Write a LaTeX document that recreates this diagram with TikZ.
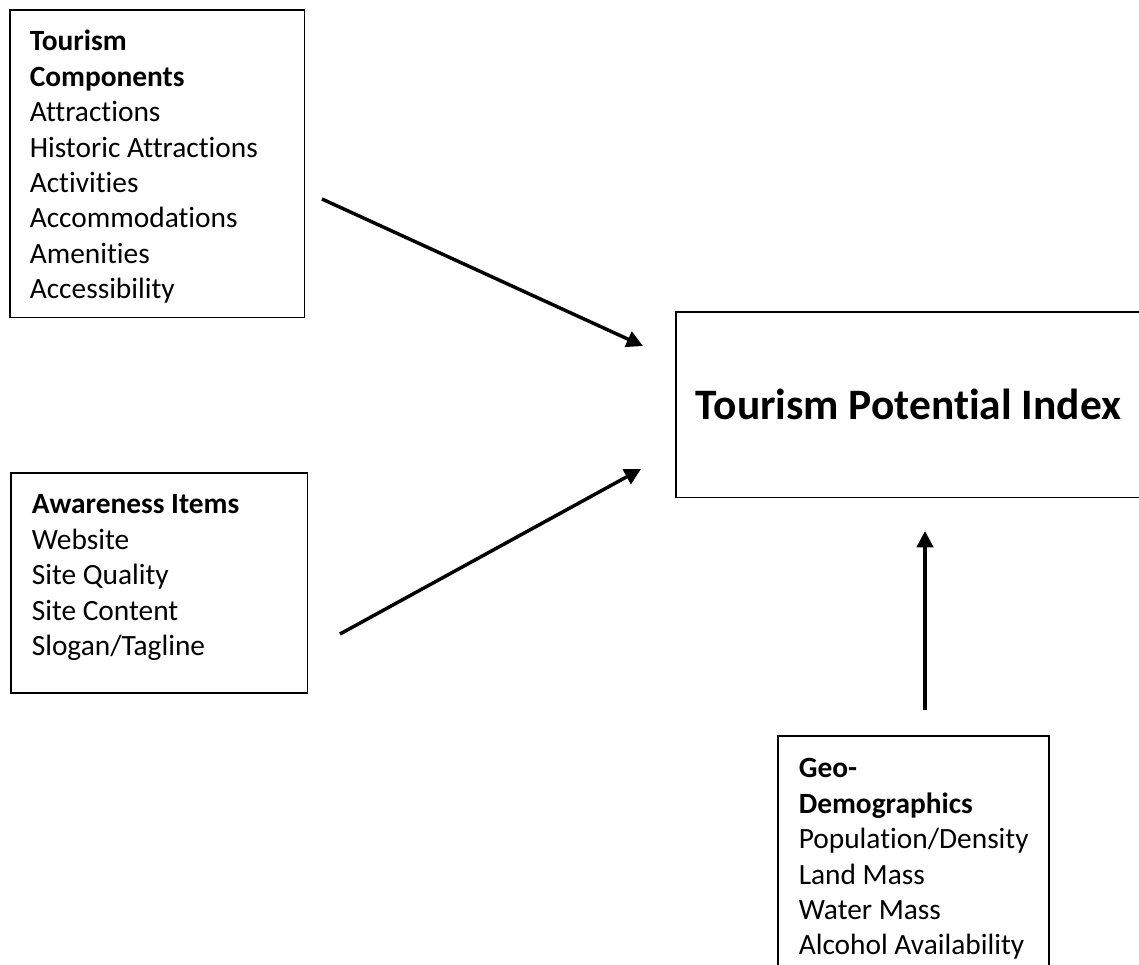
\documentclass[tikz,border=0pt]{standalone}
\usepackage{fontspec}
\setmainfont{Carlito}[Ligatures=NoCommon]
\usetikzlibrary{arrows.meta}

\begin{document}
\begin{tikzpicture}[x=0.49pt,y=-0.49pt,
  box/.style={draw,line width=0.75pt,anchor=north west,align=left,inner ysep=0pt,
    font=\fontsize{14.4pt}{17.36pt}\selectfont,
    execute at begin node={\spaceskip=0pt\xspaceskip=0pt}},
  arr/.style={-{Triangle[length=8pt,width=8pt]},line width=1.7pt}]
\useasboundingbox (0,0) rectangle (1139,964);
\clip (0,0) rectangle (1139,964);
\node[box,inner xsep=9.8pt,text width=124.9pt,text height=20.1pt,text depth=130.8pt] (comp) at (9,9)
  {\textbf{Tourism}\\\textbf{Components}\\Attractions\\Historic~Attractions\\Activities\\Accommodations\\Amenities\\Accessibility};
\node[box,inner xsep=10.3pt,text width=124.9pt,text height=20.1pt,text depth=87.7pt] (aware) at (10,472)
  {\textbf{Awareness~Items}\\Website\\Site~Quality\\Site~Content\\Slogan/Tagline};
\node[box,inner xsep=9.8pt,text width=218pt,minimum width=237.7pt,minimum height=91.1pt,
  font=\fontsize{21.3pt}{25pt}\selectfont\bfseries] (tpi) at (675,311) {Tourism~Potential~Index};
\node[box,inner xsep=10.3pt,text width=112.2pt,text height=20.6pt,text depth=117.1pt] (geo) at (777,735)
  {\textbf{Geo-}\\\textbf{Demographics}\\Population/Density\\Land~Mass\\Water~Mass\\Alcohol~Availability};
% arrow ends
\coordinate (comp-out) at (322,199);
\coordinate (aware-out) at (340,634);
\coordinate (geo-out) at (925,710);
\coordinate (tpi-in1) at (643,346);
\coordinate (tpi-in2) at (641,469);
\coordinate (tpi-in3) at (925,531);
\draw[arr] (comp-out) -- (tpi-in1);
\draw[arr] (aware-out) -- (tpi-in2);
\draw[arr] (geo-out) -- (tpi-in3);
\end{tikzpicture}
\end{document}
